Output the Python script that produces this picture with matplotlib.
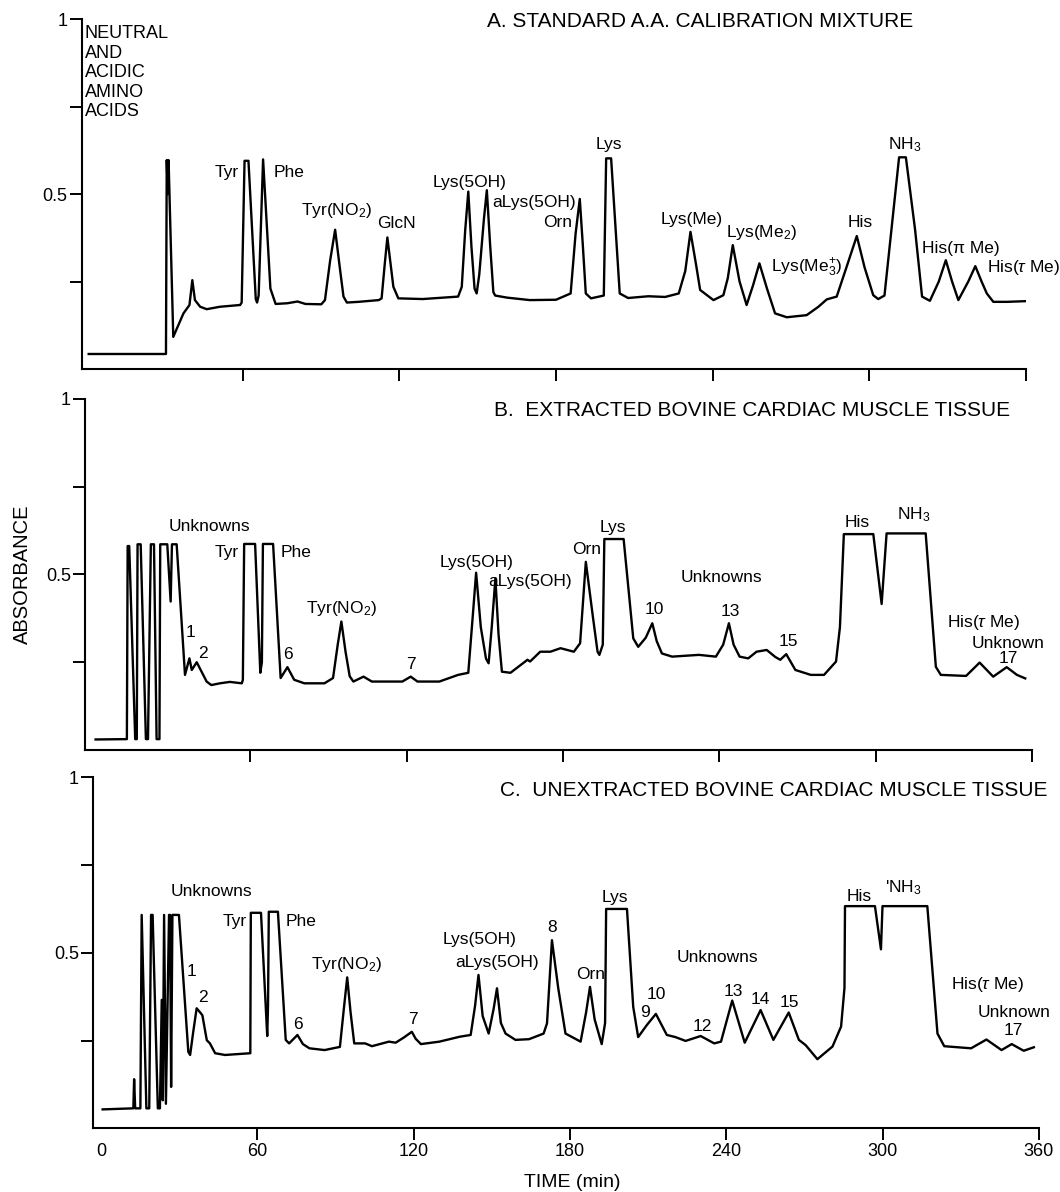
import matplotlib
matplotlib.use("Agg")
from matplotlib import pyplot as plt

plt.rcParams['font.family'] = ['Liberation Sans', 'DejaVu Sans']
plt.rcParams['mathtext.fontset'] = 'custom'
plt.rcParams['mathtext.rm'] = 'Liberation Sans'
plt.rcParams['mathtext.it'] = 'Liberation Sans:italic'
plt.rcParams['mathtext.bf'] = 'Liberation Sans:bold'

# ---- trace A: standard calibration mixture (time in min, absorbance) ----
A_time = [1.0, 30.6, 30.9, 31.3, 31.6, 33.4, 37.3, 39.6, 40.7, 41.7, 43.7, 46.2, 51.3,
          59.0, 59.6, 60.7, 62.2, 65.0, 65.5, 66.1, 67.8, 70.6, 72.6, 77.1, 81.0, 84.0,
          90.1, 91.5, 93.5, 95.4, 97.3, 98.6, 99.9, 104.3, 112.1, 113.2, 114.4, 115.4,
          117.7, 119.6, 128.9, 142.5, 143.9, 145.2, 146.4, 147.6, 148.8, 149.6,
          150.6, 152.4, 153.5, 154.8, 156.0, 156.7, 161.3, 170.0, 180.0, 185.6, 187.5,
          189.1, 190.3, 191.4, 193.4, 198.3, 199.2, 201.1, 204.4, 207.6, 215.4, 221.8,
          227.0, 229.5, 231.5, 233.6, 235.2, 240.3, 244.1, 245.8, 247.7, 250.3, 253.0,
          255.5, 257.9, 260.8, 263.9, 268.4, 276.0, 280.5, 283.7, 287.5, 291.3, 295.2,
          298.2, 301.5, 303.4, 305.8, 311.4, 314.0, 317.5, 320.2, 323.2, 326.6, 329.3,
          331.7, 334.1, 337.9, 340.6, 343.0, 345.0, 347.5, 352.6, 360.0]
A_abs = [0.043, 0.043, 0.597, 0.50, 0.597, 0.092, 0.159, 0.183, 0.254, 0.197, 0.178, 0.171, 0.178,
         0.183, 0.19, 0.595, 0.595, 0.2, 0.19, 0.21, 0.599, 0.23, 0.186, 0.188, 0.193, 0.186,
         0.185, 0.197, 0.311, 0.398, 0.283, 0.207, 0.19, 0.192, 0.197, 0.202, 0.3, 0.376,
         0.235, 0.202, 0.2, 0.207, 0.235, 0.395, 0.507, 0.35, 0.23, 0.216,
         0.27, 0.43, 0.511, 0.35, 0.22, 0.21, 0.204, 0.197, 0.198, 0.216, 0.387,
         0.486, 0.35, 0.216, 0.202, 0.21, 0.602, 0.602, 0.216, 0.203, 0.208, 0.206,
         0.216, 0.28, 0.392, 0.3, 0.226, 0.197, 0.211, 0.26, 0.354, 0.25, 0.183,
         0.24, 0.302, 0.23, 0.159, 0.148, 0.154, 0.178, 0.199, 0.207, 0.292, 0.38,
         0.29, 0.211, 0.2, 0.21, 0.605, 0.605, 0.4, 0.207, 0.195, 0.25, 0.311,
         0.25, 0.197, 0.25, 0.294, 0.25, 0.216, 0.192, 0.192, 0.194]

# ---- trace B: extracted bovine cardiac muscle tissue ----
B_time = [0.7, 12.7, 13.0, 13.6, 15.9, 16.5, 16.8, 18.0, 20.0, 20.8, 21.9, 23.1, 24.1, 25.2,
          25.5, 28.2, 29.5, 30.0, 31.8, 35.0, 36.7, 37.6, 39.5, 43.3, 45.1, 48.4, 52.2, 56.8,
          57.2, 57.7, 61.9, 63.9, 64.5, 64.9, 68.8, 71.7, 74.3, 76.9, 80.8, 88.5, 91.8, 93.6,
          95.0, 96.6, 98.2, 99.6, 103.5, 106.7, 118.4, 121.6, 124.2, 132.6, 139.8, 143.7,
          145.4, 146.7, 148.5, 150.5, 151.5, 152.7, 154.1, 155.3, 156.6, 159.9, 166.4, 167.4,
          171.3, 175.2, 179.1, 184.2, 186.6, 188.8, 191.5, 193.3, 194.0, 195.3, 195.9, 203.3,
          207.0, 208.9, 211.8, 214.3, 216.0, 218.0, 221.9, 232.2, 238.7, 241.5, 243.7, 245.5,
          247.8, 251.1, 254.3, 258.2, 261.5, 263.4, 265.7, 269.2, 275.1, 280.2, 284.8, 286.3,
          287.8, 299.1, 302.3, 304.2, 319.2, 323.1, 325.0, 334.7, 339.9, 345.1, 350.3, 354.2,
          357.4]
B_abs = [0.030, 0.031, 0.581, 0.581, 0.031, 0.031, 0.586, 0.586, 0.031, 0.031, 0.586, 0.586, 0.031, 0.031,
         0.586, 0.586, 0.423, 0.586, 0.586, 0.214, 0.261, 0.228, 0.25, 0.195, 0.185, 0.19, 0.194, 0.19,
         0.2, 0.587, 0.587, 0.22, 0.25, 0.587, 0.587, 0.205, 0.236, 0.2, 0.19, 0.19, 0.205, 0.3,
         0.366, 0.28, 0.21, 0.195, 0.209, 0.195, 0.195, 0.209, 0.195, 0.195, 0.214, 0.22,
         0.38, 0.505, 0.35, 0.26, 0.247, 0.35, 0.489, 0.33, 0.223, 0.22, 0.257, 0.252,
         0.28, 0.28, 0.29, 0.28, 0.304, 0.536, 0.38, 0.28, 0.271, 0.3, 0.601, 0.601,
         0.318, 0.294, 0.32, 0.361, 0.31, 0.275, 0.266, 0.271, 0.266, 0.3, 0.361, 0.3,
         0.266, 0.261, 0.28, 0.285, 0.265, 0.257, 0.273, 0.228, 0.214, 0.214, 0.252, 0.35,
         0.615, 0.615, 0.416, 0.617, 0.617, 0.237, 0.214, 0.211, 0.249, 0.209, 0.236, 0.214,
         0.204]

# ---- trace C: unextracted bovine cardiac muscle tissue ----
C_time = [0.6, 12.4, 12.7, 13.1, 15.1, 15.6, 17.4, 18.5, 19.2, 19.8, 21.8, 22.6, 23.3, 23.7,
          24.2, 24.9, 26.1, 26.5, 26.9, 27.4, 29.9, 33.5, 34.2, 35.3, 36.7, 38.4, 38.9, 40.6,
          41.8, 43.8, 47.6, 57.3, 57.5, 61.4, 63.8, 64.1, 64.4, 67.9, 70.9, 72.2, 75.4, 77.5,
          80.0, 85.8, 91.7, 93.2, 94.5, 95.8, 97.2, 101.4, 104.0, 110.5, 113.1, 116.3, 119.3,
          120.8, 122.8, 129.9, 137.7, 141.9, 143.6, 144.9, 146.5, 148.8, 150.7, 152.0, 153.5,
          155.3, 159.1, 164.3, 169.9, 171.2, 173.1, 175.5, 178.3, 184.1, 186.2, 187.7, 189.5,
          192.2, 193.5, 193.9, 201.9, 204.3, 206.2, 209.5, 213.0, 217.2, 220.5, 224.4, 230.2,
          235.4, 238.0, 242.3, 247.1, 253.2, 258.1, 264.0, 267.9, 270.5, 275.0, 280.8, 284.1,
          285.4, 285.6, 297.1, 299.4, 300.0, 317.2, 321.1, 323.7, 334.0, 339.9, 345.7, 349.6,
          354.2, 358.1]
C_abs = [0.054, 0.057, 0.14, 0.057, 0.057, 0.608, 0.057, 0.057, 0.608, 0.608, 0.057, 0.057, 0.366, 0.08,
         0.608, 0.07, 0.608, 0.608, 0.118, 0.608, 0.608, 0.218, 0.209, 0.27, 0.342, 0.327, 0.322, 0.251,
         0.242, 0.214, 0.209, 0.214, 0.614, 0.614, 0.263, 0.35, 0.617, 0.617, 0.252, 0.242, 0.266, 0.24,
         0.228, 0.223, 0.232, 0.34, 0.43, 0.33, 0.242, 0.242, 0.234, 0.247, 0.244, 0.259, 0.275,
         0.255, 0.24, 0.247, 0.261, 0.266, 0.35, 0.437, 0.32, 0.27, 0.34, 0.399, 0.3,
         0.27, 0.252, 0.254, 0.27, 0.299, 0.536, 0.4, 0.27, 0.247, 0.33, 0.403, 0.31,
         0.24, 0.3, 0.625, 0.625, 0.346, 0.26, 0.294, 0.326, 0.266, 0.26, 0.249, 0.263,
         0.242, 0.247, 0.364, 0.244, 0.337, 0.252, 0.33, 0.252, 0.237, 0.197, 0.233, 0.29,
         0.4, 0.633, 0.633, 0.51, 0.633, 0.633, 0.27, 0.234, 0.228, 0.253, 0.223, 0.24,
         0.221, 0.231]

# peak labels: text, time, absorbance, alignment
A_labels = [("Tyr", 58.3, 0.548, "right"), ("Phe", 71.7, 0.548, "left"),
            ("Tyr(NO$_2$)", 82.3, 0.439, "left"), ("GlcN", 111.4, 0.402, "left"),
            ("Lys(5OH)", 132.8, 0.519, "left"), ("aLys(5OH)", 155.5, 0.462, "left"),
            ("Orn", 175.0, 0.405, "left"), ("Lys", 200.3, 0.628, "center"),
            ("Lys(Me)", 219.9, 0.414, "left"), ("Lys(Me$_2$)", 245.1, 0.376, "left"),
            ("Lys(Me$_3^{+}$)", 262.2, 0.279, "left"), ("His", 291.5, 0.405, "left"),
            ("NH$_3$", 307.3, 0.628, "left"), ("His(π Me)", 320.2, 0.331, "left"),
            ("His($\\tau$ Me)", 345.1, 0.276, "left")]
B_labels = [("Unknowns", 28.9, 0.624, "left"), ("Tyr", 55.5, 0.55, "right"),
            ("Phe", 71.7, 0.55, "left"), ("1", 37.3, 0.322, "center"), ("2", 41.7, 0.262, "center"),
            ("6", 74.5, 0.259, "center"), ("Tyr(NO$_2$)", 81.4, 0.391, "left"),
            ("7", 121.6, 0.231, "center"), ("Lys(5OH)", 132.6, 0.522, "left"),
            ("aLys(5OH)", 151.5, 0.468, "left"), ("Orn", 183.6, 0.559, "left"),
            ("Lys", 199.3, 0.621, "center"), ("10", 215.0, 0.388, "center"),
            ("Unknowns", 225.1, 0.479, "left"), ("13", 244.2, 0.382, "center"),
            ("15", 266.5, 0.296, "center"), ("His", 292.8, 0.634, "center"),
            ("NH$_3$", 308.1, 0.658, "left"), ("His($\\tau$ Me)", 327.2, 0.349, "left"),
            ("Unknown", 336.7, 0.292, "left"), ("17", 350.9, 0.248, "center")]
C_labels = [("Unknowns", 26.8, 0.662, "left"), ("Tyr", 56.0, 0.576, "right"),
            ("Phe", 70.9, 0.576, "left"), ("1", 34.6, 0.434, "center"), ("2", 39.2, 0.36, "center"),
            ("6", 75.7, 0.283, "center"), ("Tyr(NO$_2$)", 80.6, 0.454, "left"),
            ("7", 119.8, 0.297, "center"), ("Lys(5OH)", 131.2, 0.525, "left"),
            ("aLys(5OH)", 135.8, 0.46, "left"), ("8", 173.1, 0.559, "center"),
            ("Orn", 182.2, 0.426, "left"), ("Lys", 197.4, 0.645, "center"),
            ("9", 208.7, 0.317, "center"), ("10", 213.3, 0.369, "center"),
            ("Unknowns", 221.1, 0.474, "left"), ("12", 230.9, 0.277, "center"),
            ("13", 242.8, 0.377, "center"), ("14", 253.2, 0.354, "center"),
            ("15", 264.4, 0.345, "center"), ("His", 291.2, 0.648, "center"),
            ("'NH$_3$", 300.9, 0.673, "left"), ("His($\\tau$ Me)", 326.3, 0.397, "left"),
            ("Unknown", 336.6, 0.317, "left"), ("17", 350.3, 0.266, "center")]

titles = ["A. STANDARD A.A. CALIBRATION MIXTURE",
          "B.  EXTRACTED BOVINE CARDIAC MUSCLE TISSUE",
          "C.  UNEXTRACTED BOVINE CARDIAC MUSCLE TISSUE"]
title_pos = [(153.5, 0.994), (153.4, 0.966), (153.3, 0.961)]

x_ticks = [0, 60, 120, 180, 240, 300, 360]
y_ticks = [0.25, 0.5, 0.75, 1.0]
y_ticklabels = ["", "0.5", "", "1"]


def draw_panel(rect, x_left, t, a, labels, title, tpos, bottom=False):
    ax = fig.add_axes(rect)
    ax.plot(t, a, color="black", lw=1.7, solid_joinstyle="round")
    ax.set_xlim(x_left, 360)
    ax.set_ylim(0, 1)
    for side in ["top", "right"]:
        ax.spines[side].set_visible(False)
    for side in ["left", "bottom"]:
        ax.spines[side].set_linewidth(1.5)
    ax.set_xticks(x_ticks)
    ax.set_yticks(y_ticks)
    ax.set_yticklabels(y_ticklabels)
    ax.tick_params(direction="out", length=8.5, width=1.4, labelsize=13, pad=2)
    ax.xaxis.get_major_ticks()[0].tick1line.set_visible(False)
    if bottom:
        ax.set_xticklabels([str(v) for v in x_ticks])
    else:
        ax.set_xticklabels([])
    for txt, lx, ly, ha in labels:
        ax.text(lx, ly, txt, ha=ha, va="baseline", fontsize=12.5)
    ax.text(tpos[0], tpos[1], title, ha="left", va="center", fontsize=15)
    return ax


fig = plt.figure(figsize=(10.6, 11.92), dpi=100)

axA = draw_panel([0.0775, 0.6904, 0.8904, 0.2936], -1.5, A_time, A_abs, A_labels, titles[0], title_pos[0])
axA.text(-0.6, 0.983, "NEUTRAL\nAND\nACIDIC\nAMINO\nACIDS", ha="left", va="top",
         fontsize=13, linespacing=1.2)
draw_panel([0.0806, 0.3708, 0.893, 0.2945], -3.2, B_time, B_abs, B_labels, titles[1], title_pos[1])
draw_panel([0.0882, 0.0534, 0.8918, 0.2945], -2.9, C_time, C_abs, C_labels, titles[2], title_pos[2],
           bottom=True)

fig.text(0.021, 0.518, "ABSORBANCE", rotation=90, ha="center", va="center", fontsize=14.5)
fig.text(0.54, 0.0076, "TIME (min)", ha="center", va="center", fontsize=14)

fig.savefig("out.png", dpi=100)
